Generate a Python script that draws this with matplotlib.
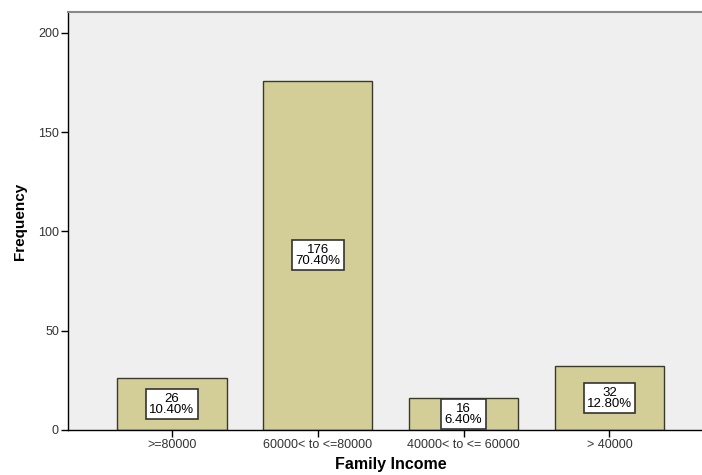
import numpy as np
import matplotlib.pyplot as plt

categories = [">=80000", "60000< to <=80000", "40000< to <= 60000", "> 40000"]
counts = [26, 176, 16, 32]
percents = [10.40, 70.40, 6.40, 12.80]

plt.rcParams['font.family'] = ['Liberation Sans', 'DejaVu Sans']

fig = plt.figure(figsize=(7.02, 4.75), dpi=100)
# axes run off the right edge, like the original export
ax = fig.add_axes([68 / 702, 45 / 475, 645 / 702, 418 / 475])
ax.set_facecolor('#efefef')

x = np.arange(len(categories))
ax.bar(x, counts, width=0.75, color='#d3ce98', edgecolor='#3a3a2a', linewidth=1.0, zorder=2)

for xi, c, p in zip(x, counts, percents):
    ax.text(xi, c / 2, f"{c}\n{p:.2f}%", ha='center', va='center', fontsize=9.5,
            linespacing=0.9, zorder=3,
            bbox=dict(boxstyle='square,pad=0.25', facecolor='white', edgecolor='#333333', linewidth=1.2))

ax.set_xlim(-0.712, 3.71)
ax.set_ylim(0, 210.5)
ax.set_yticks([0, 50, 100, 150, 200])
ax.set_xticks(x)
ax.set_xticklabels(categories)

ax.tick_params(axis='both', direction='out', length=5, width=1, colors='black', labelsize=9,
               labelcolor='#333333', pad=1.5)
for s in ['left', 'bottom']:
    ax.spines[s].set_color('black')
    ax.spines[s].set_linewidth(1)
ax.spines['top'].set_color('#888888')
ax.spines['top'].set_linewidth(1.5)
ax.spines['right'].set_visible(False)

ax.set_xlabel("Family Income", fontsize=11.5, fontweight='bold', labelpad=4)
ax.set_ylabel("Frequency", fontsize=11, fontweight='bold', labelpad=8)

fig.savefig("out.png", dpi=100)
